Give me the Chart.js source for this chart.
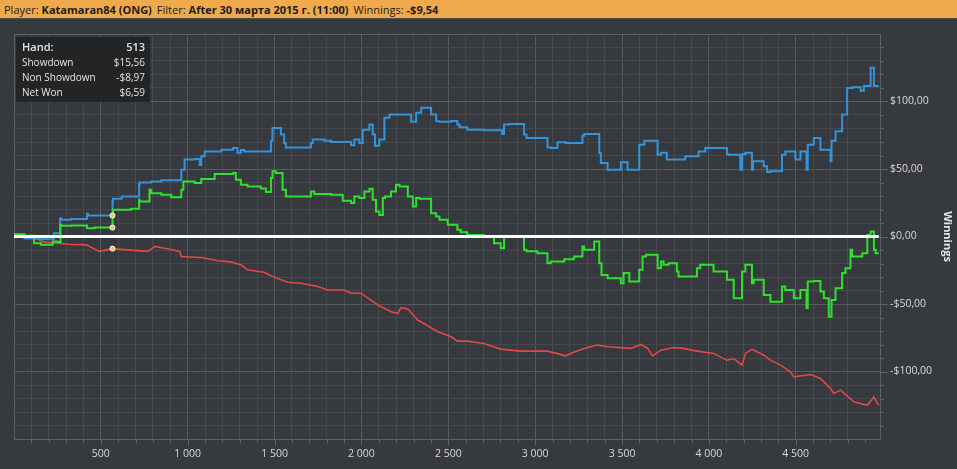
<!DOCTYPE html>
<html>
<head>
<meta charset="utf-8">
<script src="https://cdn.jsdelivr.net/npm/chart.js@4/dist/chart.umd.min.js"></script>
<style>
  body { margin: 0; background: #36393d; width: 957px; height: 469px; overflow: hidden; position: relative; font-family: "Open Sans", "Noto Sans", sans-serif; }
  #header { position: absolute; left: 0; top: 0; width: 957px; height: 19px; background: #f0aa4b; border-bottom: 1px solid #4a4d51; color: #1c1c1c; font-size: 11px; line-height: 19px; padding-left: 4px; box-sizing: border-box; white-space: nowrap; }
  #header b { font-weight: 700; margin-right: 5px; }
  #header span { margin-right: 3px; }
  #wrap { position: absolute; left: 0; top: 21px; width: 957px; height: 448px; }
  #info { position: absolute; left: 16px; top: 37px; width: 134px; height: 65px; background: rgba(33, 34, 36, 0.93); box-sizing: border-box; padding: 2px 5px 0 6px; color: #e4e4e4; }
  #info .row { display: flex; justify-content: space-between; height: 15px; line-height: 15px; font-size: 10px; }
  #info .row.head { height: 16px; line-height: 16px; font-size: 11px; font-weight: 600; }
</style>
</head>
<body>
<div id="header"><span>Player:</span><b>Katamaran84 (ONG)</b><span>Filter:</span><b>After 30 марта 2015 г. (11:00)</b><span>Winnings:</span><b>-$9,54</b></div>
<div id="wrap"><canvas id="myChart"></canvas></div>
<div id="info">
  <div class="row head"><span>Hand:</span><span>513</span></div>
  <div class="row"><span>Showdown</span><span>$15,56</span></div>
  <div class="row"><span>Non Showdown</span><span>-$8,97</span></div>
  <div class="row"><span>Net Won</span><span>$6,59</span></div>
</div>
<script>
// [hand, winnings]
const showdown = [[0,0],[60,0.5],[150,-1.5],[230,-2],[235,2.5],[265,2.5],[272,13.4],[330,12.5],[420,13],[425,16.8],[560,15.5],[567,15.56],[570,26],[620,28],[720,29.7],[723,38.6],[790,40],[848,40.8],[963,41.6],[982,49.5],[1040,57],[1069,57.5],[1078,53],[1098,59.4],[1194,63],[1261,64.3],[1286,65.6],[1306,62],[1325,64],[1479,63],[1488,71],[1536,80.4],[1555,75.5],[1565,69.3],[1613,66],[1709,66],[1719,69.3],[1786,71.8],[1825,71],[1940,70],[1959,67.6],[1988,71.8],[2007,69.3],[2046,79],[2065,83],[2078,75.5],[2103,67.3],[2132,71.8],[2161,87.9],[2209,90.3],[2286,90.3],[2315,85],[2344,91.6],[2401,95.3],[2430,90.3],[2449,85.4],[2517,85],[2552,85.5],[2565,83],[2609,81],[2705,79],[2811,78.7],[2821,76],[2850,83],[2936,83.4],[2950,75.5],[3071,73],[3090,66],[3128,65.6],[3176,69.8],[3272,69.3],[3282,74.7],[3369,76],[3378,61.9],[3417,54.5],[3493,49.5],[3532,55],[3551,49.5],[3599,49.5],[3628,68],[3705,71],[3724,60.6],[3758,62],[3825,57],[3864,57],[3941,59.4],[3979,63],[4008,65.6],[4104,65.6],[4114,61],[4181,60.6],[4191,49.5],[4210,61],[4248,62],[4254,49.5],[4316,55.7],[4335,52],[4354,47.8],[4421,48.3],[4440,60.6],[4498,63],[4527,57],[4562,63],[4569,49.5],[4604,68],[4642,73],[4662,64.3],[4700,64.3],[4706,55.7],[4729,71],[4767,78],[4796,90.3],[4825,110],[4873,110.6],[4892,108],[4931,111.4],[4950,125],[4960,111.4],[4978,111.4]];

const nonShowdown = [[0,0],[60,1.2],[117,-1.2],[175,-4.2],[252,-5],[310,-5.7],[415,-6.2],[492,-11],[567,-8.97],[656,-9.9],[771,-11],[809,-7.4],[867,-8.7],[954,-11],[963,-14.8],[1078,-15.6],[1175,-18],[1248,-18.8],[1306,-21],[1344,-24.7],[1440,-26.5],[1479,-29],[1575,-33.9],[1652,-34.6],[1748,-37],[1805,-39.6],[1901,-39.6],[1940,-42],[1998,-42],[2094,-50.7],[2171,-55.7],[2209,-57],[2228,-52.7],[2267,-53.7],[2324,-61.9],[2401,-67.6],[2440,-70.5],[2517,-74.3],[2552,-77.5],[2609,-77.5],[2705,-79.2],[2802,-83.4],[2917,-84.9],[3071,-84.9],[3176,-88.4],[3224,-85.5],[3282,-82.9],[3359,-80.4],[3417,-81.7],[3551,-82.9],[3609,-80],[3647,-82.9],[3676,-88.4],[3724,-84.2],[3797,-82.2],[3854,-82.9],[3931,-84.9],[4027,-86.6],[4104,-91.6],[4143,-90.4],[4191,-95.3],[4210,-86.6],[4248,-83.4],[4316,-87.9],[4354,-91.6],[4412,-95.3],[4469,-100.2],[4489,-104],[4585,-102.2],[4642,-105.2],[4700,-112.5],[4719,-116.3],[4758,-113.8],[4835,-122.5],[4912,-125],[4950,-118.8],[4960,-121.3],[4978,-125]];

const netWon = [[0,-1.2],[60,1.7],[115,0.5],[155,-5],[223,-6.2],[250,-3.7],[268,-4],[272,8.7],[330,8],[420,8.2],[464,6.2],[560,6.7],[567,6.59],[570,15.3],[675,19.8],[720,20.5],[723,27.2],[780,26],[790,34.6],[848,32],[905,31],[963,29],[975,34.6],[1040,40.8],[1078,39.6],[1098,42.6],[1155,42.6],[1261,46.3],[1277,47],[1306,42],[1344,38.4],[1421,37],[1450,35.5],[1479,33],[1488,43.3],[1507,48.3],[1546,47],[1565,34.6],[1613,29.7],[1709,29.7],[1728,33.4],[1825,31.4],[1892,31],[1940,26.5],[1959,24.8],[1988,29.7],[2017,28.5],[2046,33.4],[2065,35.4],[2084,27.2],[2103,18.6],[2123,16],[2136,28.5],[2170,29.7],[2199,33.4],[2219,38.4],[2267,37],[2296,29.7],[2315,22.3],[2334,28.5],[2401,28],[2430,17.3],[2449,14.8],[2497,12.4],[2552,8.7],[2571,5],[2609,3.2],[2705,1.2],[2763,0],[2802,-5],[2821,-8.7],[2850,0],[2936,0],[2950,-9.9],[3013,-11],[3071,-12.4],[3090,-19.8],[3167,-18.6],[3224,-16.8],[3272,-14.8],[3282,-7.4],[3340,-9.9],[3369,-3.7],[3382,-19.8],[3417,-28.5],[3493,-31],[3509,-34.6],[3542,-27],[3561,-33.4],[3599,-33.4],[3618,-24.7],[3638,-14.8],[3705,-13.6],[3724,-23.5],[3739,-18.6],[3768,-21],[3816,-19.8],[3825,-26],[3931,-29.7],[3950,-23.5],[4027,-21],[4104,-26],[4143,-32],[4191,-45.8],[4210,-26],[4248,-21],[4258,-34.6],[4316,-32],[4354,-43.3],[4421,-48.3],[4440,-37],[4489,-39.6],[4527,-45.8],[4562,-39.6],[4569,-53],[4604,-33.4],[4642,-33],[4662,-40.8],[4690,-45.8],[4706,-59.4],[4729,-47],[4767,-38.4],[4786,-27],[4815,-23.5],[4825,-9.9],[4883,-14.8],[4912,-12.4],[4931,1.2],[4950,3.7],[4960,-9.9],[4978,-12.4]];

// the hovered hand shown in the box
const hoverHand = 567;
const hoverValues = [15.56, -8.97, 6.59];

const xMax = 4985;
const yMin = -150, yMax = 150;

const toXY = arr => arr.map(p => ({x: p[0], y: p[1]}));

const gridMinor = '#45484c';
const gridMajor = '#575a5e';
const borderCol = '#5e6165';

function money(v) {
  let s = '$' + Math.abs(v).toFixed(2).replace('.', ',');
  return v < 0 ? '-' + s : s;
}

// small tick marks outside the plot, longer on the major ones
const tickMarks = {
  id: 'tickMarks',
  afterDraw(chart) {
    const {ctx, chartArea, scales} = chart;
    ctx.save();
    ctx.strokeStyle = borderCol;
    ctx.lineWidth = 1;
    for (let v = 100; v < xMax; v += 100) {
      let px = Math.round(scales.x.getPixelForValue(v)) + 0.5;
      let len = v % 500 === 0 ? 6 : 4;
      ctx.beginPath();
      ctx.moveTo(px, chartArea.bottom);
      ctx.lineTo(px, chartArea.bottom + len);
      ctx.stroke();
    }
    for (let v = yMin + 10; v < yMax; v += 10) {
      let py = Math.round(scales.y.getPixelForValue(v)) + 0.5;
      let len = v % 50 === 0 ? 8 : 4;
      ctx.beginPath();
      ctx.moveTo(chartArea.right, py);
      ctx.lineTo(chartArea.right + len, py);
      ctx.stroke();
    }
    ctx.restore();
  }
};

const data = {
  datasets: [
    {
      label: 'hover',
      data: hoverValues.map(v => ({x: hoverHand, y: v})),
      showLine: false,
      pointRadius: 2.5,
      pointBackgroundColor: '#f3c264',
      pointBorderColor: '#ffffff',
      pointBorderWidth: 1
    },
    {
      label: 'zero',
      data: [{x: 0, y: 0}, {x: 4978, y: 0}],
      borderColor: '#ffffff',
      borderWidth: 3,
      pointRadius: 0
    },
    {
      label: 'Net Won',
      data: toXY(netWon),
      borderColor: '#2fe02f',
      borderWidth: 2,
      pointRadius: 0,
      stepped: 'after'
    },
    {
      label: 'Showdown',
      data: toXY(showdown),
      borderColor: '#3394dc',
      borderWidth: 2,
      pointRadius: 0,
      stepped: 'after'
    },
    {
      label: 'Non Showdown',
      data: toXY(nonShowdown),
      borderColor: '#e24848',
      borderWidth: 1.6,
      pointRadius: 0,
      tension: 0
    }
  ]
};

const config = {
  type: 'line',
  data: data,
  plugins: [tickMarks],
  options: {
    responsive: true,
    maintainAspectRatio: false,
    animation: false,
    layout: { padding: { left: 14, top: 13, right: 0, bottom: 0 } },
    plugins: { legend: { display: false }, tooltip: { enabled: false } },
    scales: {
      x: {
        type: 'linear',
        min: 0,
        max: xMax,
        afterFit: s => { s.height = 30; },
        border: { color: borderCol },
        grid: {
          color: c => (c.tick.value === 0 ? borderCol : (c.tick.value % 500 === 0 ? gridMajor : gridMinor)),
          tickLength: 5,
          tickColor: 'rgba(0,0,0,0)'
        },
        ticks: {
          stepSize: 100,
          autoSkip: false,
          maxRotation: 0,
          padding: 4,
          color: '#d9d9d9',
          font: { family: 'Open Sans', size: 10.5 },
          callback: v => (v > 0 && v % 500 === 0 ? v.toLocaleString('en-US').replace(',', ' ') : '')
        }
      },
      y: {
        position: 'right',
        min: yMin,
        max: yMax,
        afterFit: s => { s.width = 77; },
        border: { color: borderCol },
        grid: {
          color: c => (Math.abs(c.tick.value) === 150 ? borderCol : (c.tick.value % 50 === 0 ? gridMajor : gridMinor)),
          tickLength: 8,
          tickColor: 'rgba(0,0,0,0)'
        },
        ticks: {
          stepSize: 10,
          autoSkip: false,
          padding: 2,
          color: '#d9d9d9',
          font: { family: 'Open Sans', size: 10.5 },
          callback: v => (v % 50 === 0 && Math.abs(v) < 150 ? money(v) : '')
        },
        title: {
          display: true,
          text: 'Winnings',
          color: '#e2e2e2',
          font: { family: 'Open Sans', size: 11, weight: 'bold' },
          padding: { top: 3, bottom: 0 }
        }
      }
    }
  }
};

const ctx = document.getElementById('myChart').getContext('2d');
const myChart = new Chart(ctx, config);
</script>
</body>
</html>
